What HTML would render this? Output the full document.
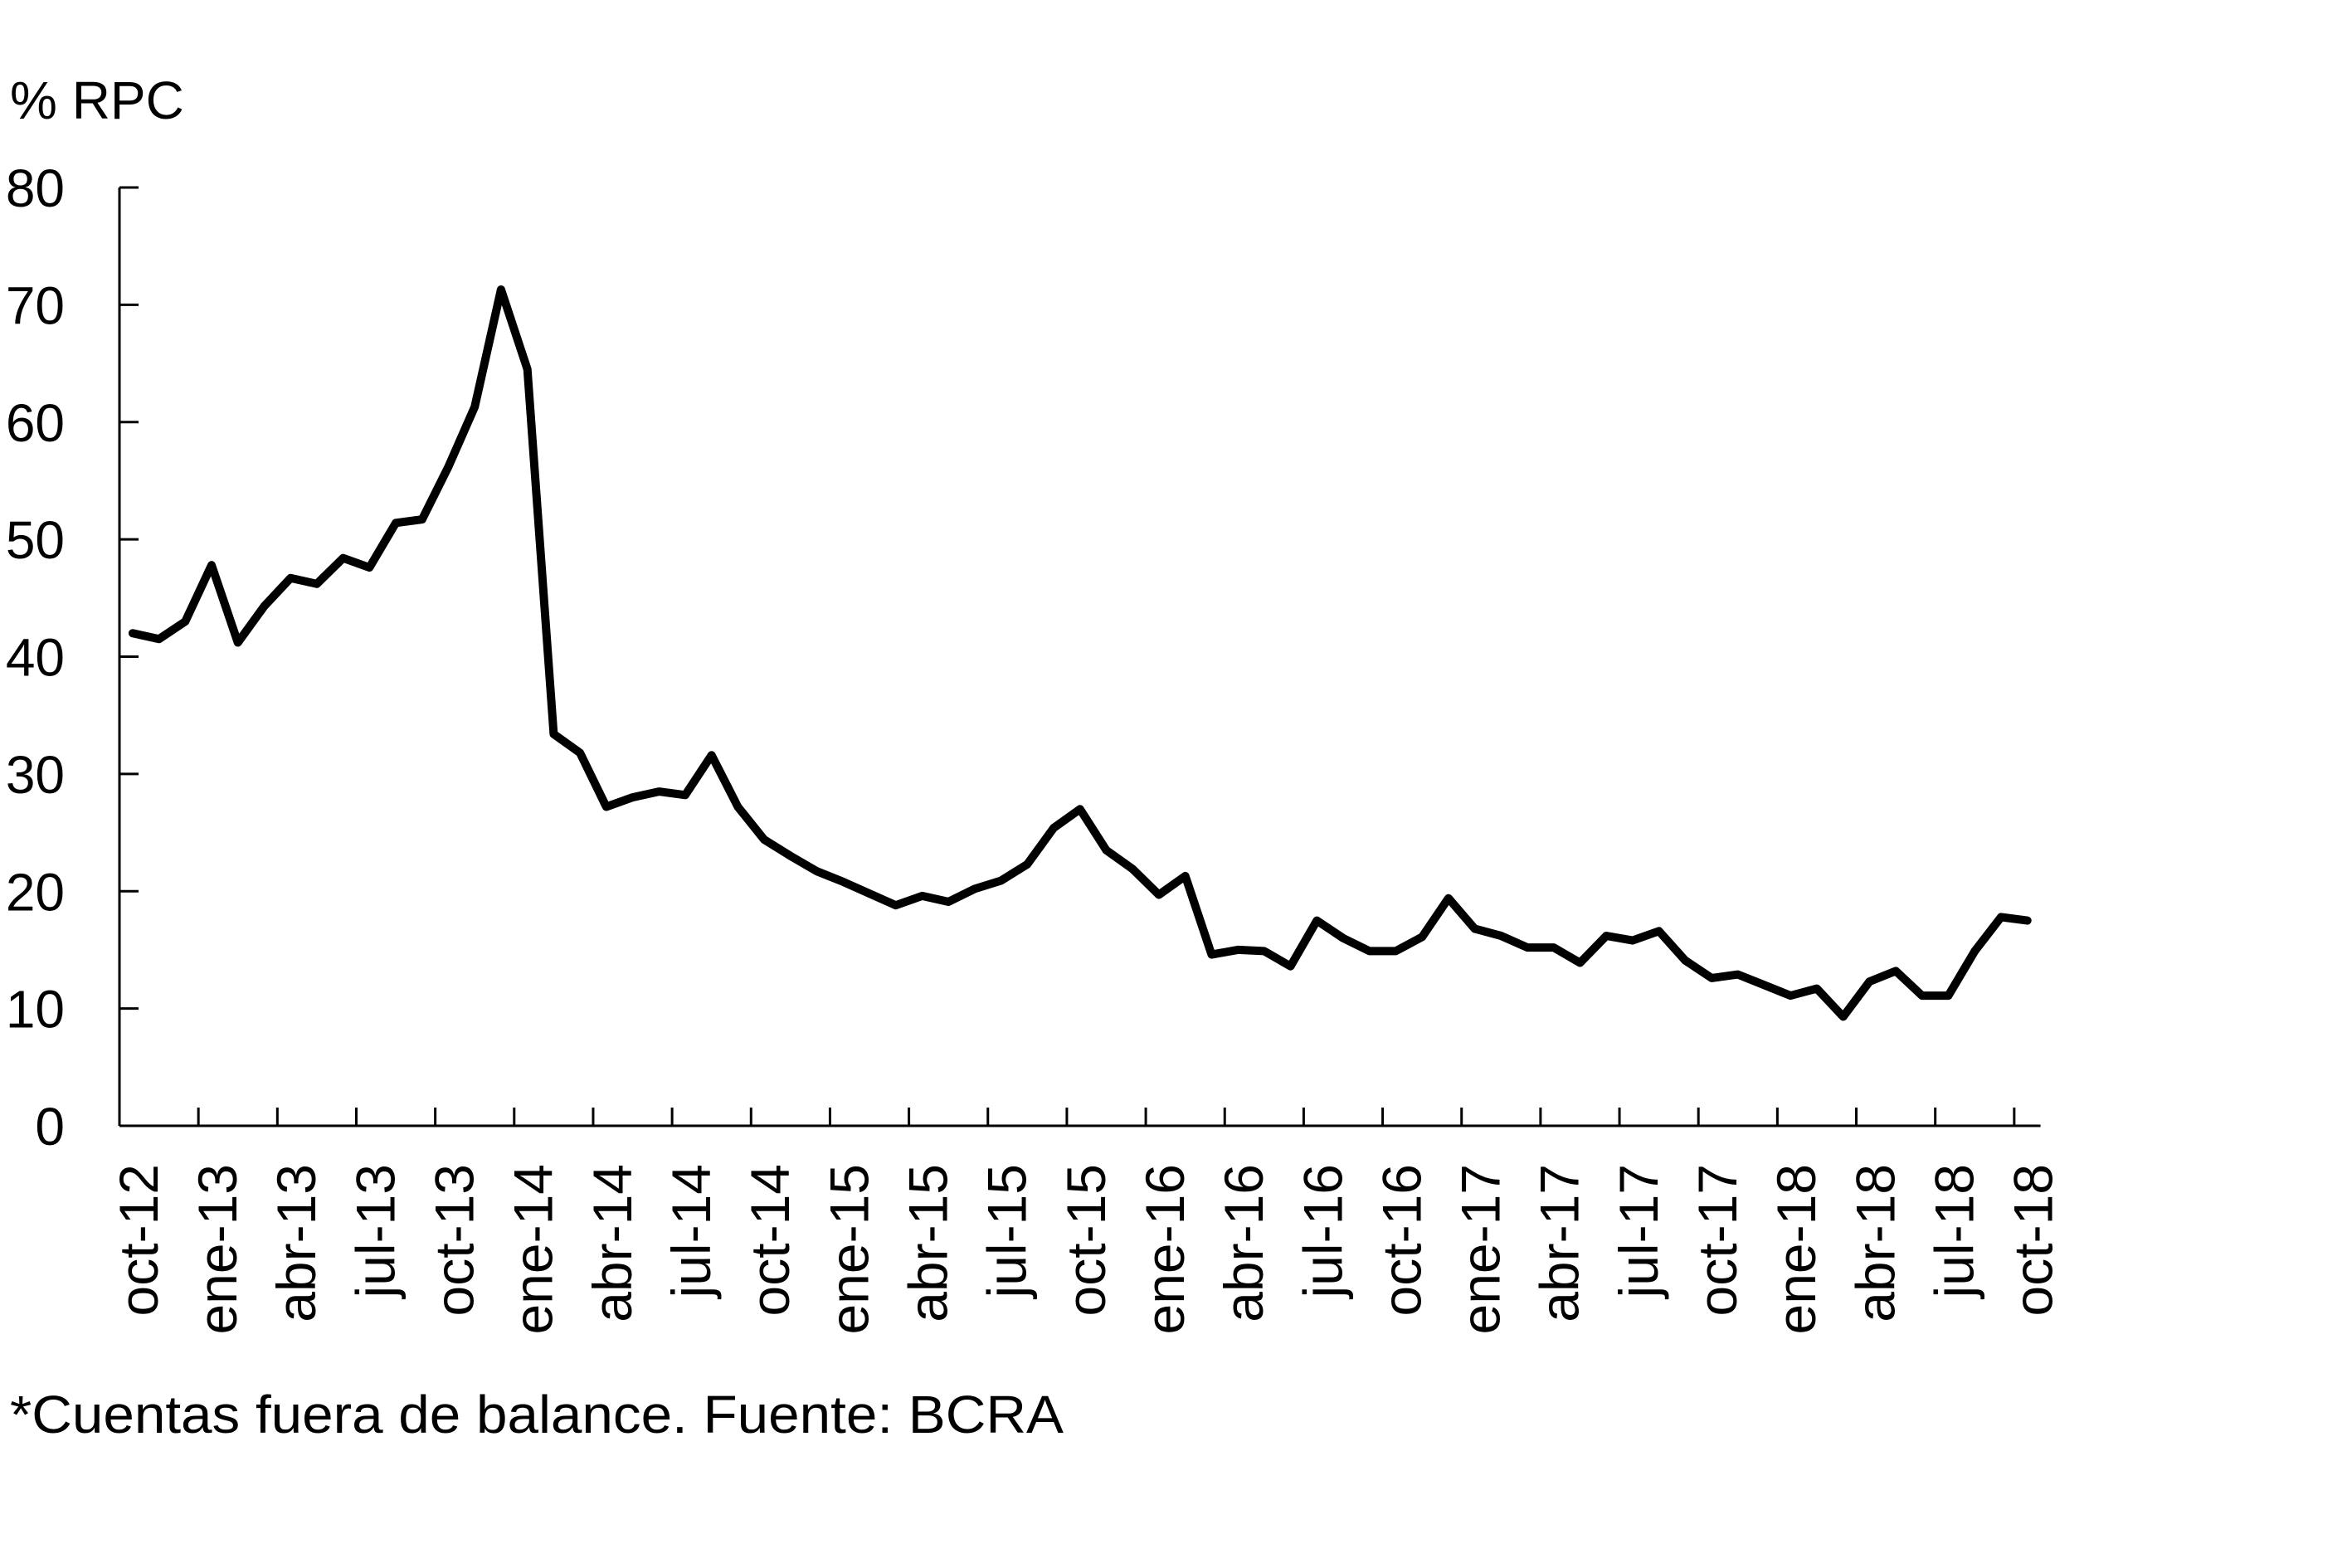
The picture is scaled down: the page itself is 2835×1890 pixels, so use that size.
<!DOCTYPE html>
<html><head><meta charset="utf-8"><style>
html,body{margin:0;padding:0;background:#fff}
svg{display:block;font-family:"Liberation Sans",sans-serif}
</style></head><body>
<svg id="chart" width="2835" height="1890" viewBox="0 0 2835 1890" xmlns="http://www.w3.org/2000/svg">
<text x="12" y="143" font-size="64" fill="#000">% RPC</text>
<g id="axes"></g>
<path id="series" fill="none" stroke="#000" stroke-width="10" stroke-linejoin="round" stroke-linecap="round"/>
<text x="12" y="1727" font-size="64" fill="#000" textLength="1270" lengthAdjust="spacingAndGlyphs">*Cuentas fuera de balance. Fuente: BCRA</text>
</svg>
<script>
const categories = ["oct-12","nov-12","dic-12","ene-13","feb-13","mar-13","abr-13","may-13","jun-13","jul-13","ago-13","sep-13","oct-13","nov-13","dic-13","ene-14","feb-14","mar-14","abr-14","may-14","jun-14","jul-14","ago-14","sep-14","oct-14","nov-14","dic-14","ene-15","feb-15","mar-15","abr-15","may-15","jun-15","jul-15","ago-15","sep-15","oct-15","nov-15","dic-15","ene-16","feb-16","mar-16","abr-16","may-16","jun-16","jul-16","ago-16","sep-16","oct-16","nov-16","dic-16","ene-17","feb-17","mar-17","abr-17","may-17","jun-17","jul-17","ago-17","sep-17","oct-17","nov-17","dic-17","ene-18","feb-18","mar-18","abr-18","may-18","jun-18","jul-18","ago-18","sep-18","oct-18"];
const values = [42,41.5,43,47.8,41.2,44.3,46.7,46.2,48.4,47.6,51.4,51.7,56.2,61.3,71.3,64.5,33.4,31.8,27.2,28.0,28.5,28.2,31.6,27.2,24.4,23.0,21.7,20.8,19.8,18.8,19.6,19.1,20.2,20.9,22.3,25.4,27.0,23.5,21.9,19.7,21.3,14.6,15.0,14.9,13.6,17.5,16.0,14.9,14.9,16.1,19.4,16.8,16.2,15.2,15.2,13.9,16.2,15.8,16.6,14.1,12.6,12.9,12.0,11.1,11.7,9.3,12.3,13.2,11.1,11.1,14.9,17.8,17.5];
const yTicks = [0,10,20,30,40,50,60,70,80];

const NS="http://www.w3.org/2000/svg";
const X0=144, CW=31.72, Y0=1357, YT=226, YMAX=80;
const xC=i=>X0+CW*(i+0.5);
const xB=i=>X0+CW*i;
const y=v=>Y0-(Y0-YT)*v/YMAX;
const g=document.getElementById('axes');
function mk(tag,attrs){const e=document.createElementNS(NS,tag);for(const k in attrs)e.setAttribute(k,attrs[k]);return e;}
const n=categories.length;
const ya=mk('line',{x1:X0,y1:YT,x2:X0,y2:Y0,stroke:'#000','stroke-width':3});


g.appendChild(ya);
const xa=mk('line',{x1:X0,y1:Y0,x2:xB(n),y2:Y0,stroke:'#000','stroke-width':3});


g.appendChild(xa);
yTicks.forEach(t=>{
  const l=mk('line',{x1:X0,y1:y(t),x2:X0+23,y2:y(t),stroke:'#000','stroke-width':3});
  
  
  g.appendChild(l);
  const tx=mk('text',{x:78,y:y(t)+23,'font-size':64,'text-anchor':'end',fill:'#000'});
  
  
  tx.textContent=t;g.appendChild(tx);
});
for(let i=0;i<n;i+=3){
  if(i>0){
    const l=mk('line',{x1:xB(i),y1:Y0,x2:xB(i),y2:Y0-22,stroke:'#000','stroke-width':3});
    
    
    g.appendChild(l);
  }
  const cx=xC(i)+30, cy=1403;
  const tx=mk('text',{x:cx,y:cy,'font-size':66,'text-anchor':'end',fill:'#000',transform:`rotate(-90 ${cx} ${cy})`});
  
  
  tx.textContent=categories[i];g.appendChild(tx);
}
document.getElementById('series').setAttribute('d',values.map((v,i)=>(i?'L':'M')+xC(i).toFixed(1)+' '+y(v).toFixed(1)).join(' '));
</script>
</body></html>
